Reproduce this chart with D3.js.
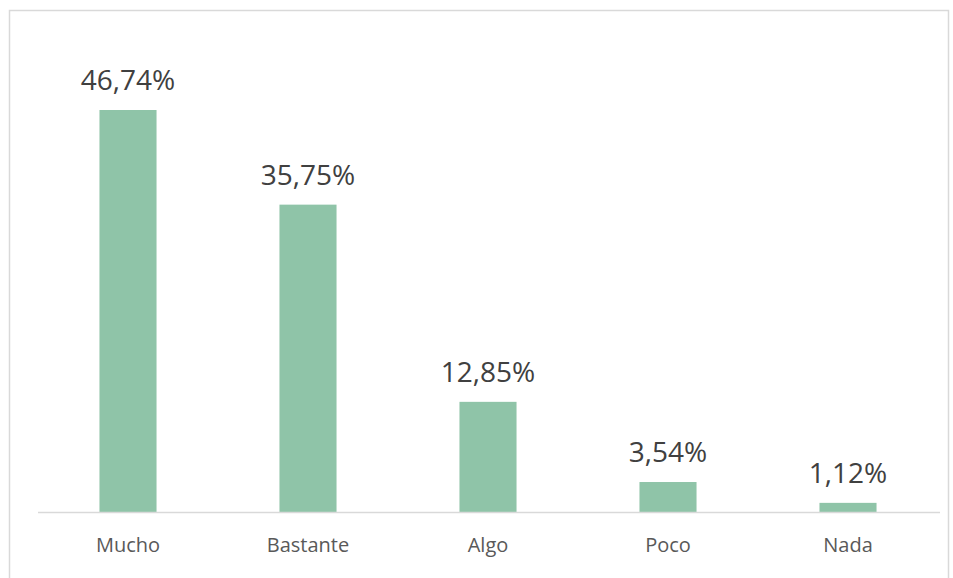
<!DOCTYPE html>
<html><head><meta charset="utf-8">
<script src="https://cdn.jsdelivr.net/npm/d3@7"></script>
<style>html,body{margin:0;padding:0;background:#fff;}svg{display:block;}</style>
</head><body>
<svg id="chart" width="953" height="578"></svg>
<script>
const categories = ["Mucho", "Bastante", "Algo", "Poco", "Nada"];
const values = [46.74, 35.75, 12.85, 3.54, 1.12];
const valueLabels = ["46,74%", "35,75%", "12,85%", "3,54%", "1,12%"];

const svg = d3.select("#chart");
// outer border
svg.append("rect").attr("x", 9.5).attr("y", 10.5).attr("width", 939).attr("height", 580)
  .attr("fill", "#fff").attr("stroke", "#d9d9d9").attr("stroke-width", 1.5);

const x = d3.scaleBand().domain(categories).range([38, 938]).paddingInner(0.683).paddingOuter(0.3415);
const y = d3.scaleLinear().domain([0, 46.74]).range([512.5, 110]);

svg.selectAll("rect.bar").data(values).enter().append("rect").attr("class", "bar")
  .attr("x", (d, i) => x(categories[i]))
  .attr("width", x.bandwidth())
  .attr("y", d => y(d))
  .attr("height", d => y(0) - y(d))
  .attr("fill", "#8fc4a8");

// baseline axis
const xAxis = d3.axisBottom(x).tickSize(0).tickPadding(0);
const gx = svg.append("g").attr("transform", `translate(0,${y(0)})`).call(xAxis);
gx.select(".domain").attr("stroke", "#d9d9d9").attr("stroke-width", 1.5).attr("d", "M38,0H940");
gx.selectAll(".tick text").attr("y", 39).attr("dy", 0)
  .attr("font-family", "'Open Sans', sans-serif").attr("font-size", 20).attr("fill", "#595959");

svg.selectAll("text.val").data(values).enter().append("text").attr("class", "val")
  .attr("x", (d, i) => x(categories[i]) + x.bandwidth() / 2)
  .attr("y", d => y(d) - 20)
  .attr("text-anchor", "middle")
  .attr("font-family", "'Open Sans', sans-serif").attr("font-size", 28).attr("fill", "#404040")
  .text((d, i) => valueLabels[i]);
</script>
</body></html>
